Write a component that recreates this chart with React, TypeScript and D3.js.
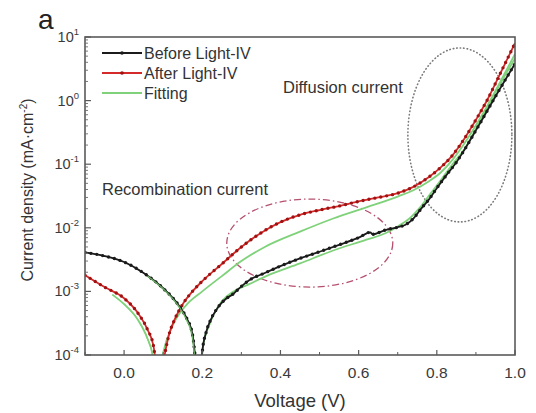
import React from 'react';
import * as d3 from 'd3';

type Pt = [number, number];

// Before Light-IV (|J| in mA/cm^2), split at the sign change
const beforeLeft: Pt[] = [
  [-0.1, 4.1e-3], [-0.05, 3.6e-3], [0.0, 2.9e-3], [0.05, 1.95e-3], [0.1, 1.12e-3],
  [0.14, 6.0e-4], [0.16, 3.8e-4], [0.175, 2.1e-4], [0.186, 5e-5],
];
const beforeRight: Pt[] = [
  [0.196, 5e-5], [0.2, 1.1e-4], [0.21, 2.3e-4], [0.22, 3.4e-4], [0.24, 5.6e-4],
  [0.26, 7.6e-4], [0.28, 9.2e-4], [0.3, 1.2e-3], [0.32, 1.5e-3], [0.36, 1.95e-3],
  [0.4, 2.5e-3], [0.45, 3.3e-3], [0.5, 4.2e-3], [0.55, 5.4e-3], [0.6, 7.0e-3],
  [0.63, 8.5e-3], [0.635, 7.9e-3], [0.67, 9.3e-3], [0.7, 1.02e-2], [0.72, 1.12e-2],
  [0.74, 1.4e-2], [0.76, 2.0e-2], [0.78, 2.8e-2], [0.8, 4.2e-2], [0.825, 6.8e-2],
  [0.85, 0.107], [0.87, 0.166], [0.9, 0.34], [0.93, 0.71], [0.96, 1.48], [1.0, 3.8],
];

// After Light-IV
const afterLeft: Pt[] = [
  [-0.1, 1.8e-3], [-0.05, 1.17e-3], [0.0, 7.8e-4], [0.035, 4.6e-4], [0.06, 2.5e-4],
  [0.075, 1.4e-4], [0.085, 5e-5],
];
const afterRight: Pt[] = [
  [0.095, 5e-5], [0.105, 1.1e-4], [0.115, 2.1e-4], [0.13, 3.7e-4], [0.15, 6.3e-4],
  [0.175, 1.0e-3], [0.2, 1.45e-3], [0.25, 2.7e-3], [0.3, 5.0e-3], [0.35, 8.3e-3],
  [0.4, 1.23e-2], [0.45, 1.6e-2], [0.5, 1.9e-2], [0.55, 2.2e-2], [0.6, 2.6e-2],
  [0.65, 3.0e-2], [0.7, 3.5e-2], [0.74, 4.4e-2], [0.78, 6.3e-2], [0.81, 8.9e-2],
  [0.84, 0.138], [0.87, 0.25], [0.9, 0.5], [0.93, 1.05], [0.96, 2.5], [1.0, 8.0],
];

// Fitting curves
const fitAfterLeft: Pt[] = [
  [-0.03, 8.9e-4], [0.0, 6.3e-4], [0.035, 3.6e-4], [0.06, 1.8e-4], [0.072, 1.07e-4], [0.08, 5e-5],
];
const fitAfterRight: Pt[] = [
  [0.09, 5e-5], [0.1, 1.1e-4], [0.123, 2.8e-4], [0.156, 5.8e-4], [0.2, 1.0e-3],
  [0.25, 1.74e-3], [0.3, 3.0e-3], [0.36, 5.0e-3], [0.45, 8.7e-3], [0.535, 1.4e-2],
  [0.62, 2.1e-2], [0.7, 3.1e-2], [0.74, 3.9e-2], [0.78, 5.4e-2], [0.81, 7.4e-2],
  [0.84, 0.117], [0.87, 0.21], [0.9, 0.41], [0.93, 0.85], [0.96, 1.86], [1.0, 5.4],
];
const fitBeforeLeft: Pt[] = [
  [0.06, 1.75e-3], [0.1, 1.1e-3], [0.14, 5.8e-4], [0.16, 3.6e-4], [0.175, 1.9e-4], [0.185, 5e-5],
];
const fitBeforeRight: Pt[] = [
  [0.194, 5e-5], [0.2, 1.2e-4], [0.22, 3.2e-4], [0.25, 7.0e-4], [0.28, 1.0e-3],
  [0.32, 1.3e-3], [0.365, 1.75e-3], [0.45, 2.75e-3], [0.535, 4.4e-3], [0.62, 6.5e-3],
  [0.67, 8.3e-3], [0.7, 1.05e-2], [0.73, 1.4e-2], [0.757, 2.1e-2], [0.78, 3.2e-2],
  [0.81, 5.6e-2], [0.84, 0.1], [0.87, 0.17], [0.9, 0.36], [0.93, 0.79], [0.96, 1.74], [1.0, 4.6],
];

const xMajor = [0.0, 0.2, 0.4, 0.6, 0.8, 1.0];
const xMinor = [-0.1, 0.1, 0.3, 0.5, 0.7, 0.9];
const yDecades = [-4, -3, -2, -1, 0, 1];
const legendItems = ['Before Light-IV', 'After Light-IV', 'Fitting'];

const W = 536;
const H = 413;
const margin = { top: 37, right: 21, bottom: 58, left: 85 };

const BLACK = '#1b1b1b';
const RED = '#d42a2a';
const RED_DOT = '#9e1212';
const GREEN = '#7fd27a';
const FONT = 'Liberation Sans, Arial, sans-serif';

const App: React.FC = () => {
  const x = d3.scaleLinear().domain([-0.1, 1.0]).range([margin.left, W - margin.right]);
  const y = d3.scaleLog().domain([1e-4, 10]).range([H - margin.bottom, margin.top]);
  const line = d3.line<Pt>().x(d => x(d[0])).y(d => y(d[1])).curve(d3.curveMonotoneX);

  const [x0, x1] = x.range();
  const [yb, yt] = y.range();

  const yMinor: number[] = [];
  yDecades.slice(0, -1).forEach(e => {
    for (let k = 2; k <= 9; k++) yMinor.push(k * Math.pow(10, e));
  });

  const dotted = (data: Pt[], col: string, dotCol: string, key: string) => (
    <g key={key}>
      <path d={line(data) || ''} fill="none" stroke={col} strokeWidth={1.8} />
      <path d={line(data) || ''} fill="none" stroke={dotCol} strokeWidth={3.4}
        strokeLinecap="round" strokeDasharray="0 6" />
    </g>
  );

  return (
    <svg width={W} height={H} style={{ position: 'absolute', left: 0, top: 0, background: '#fff' }}
      fontFamily={FONT}>
      <defs>
        <clipPath id="plot">
          <rect x={x0} y={yt} width={x1 - x0} height={yb - yt} />
        </clipPath>
      </defs>

      {/* annotation ellipses */}
      <ellipse cx={x(0.859)} cy={y(Math.pow(10, -0.54))} rx={52} ry={87}
        fill="none" stroke="#7a7a7a" strokeWidth={1.6} strokeLinecap="round" strokeDasharray="0.5 3" />
      <ellipse cx={x(0.475)} cy={y(Math.pow(10, -2.24))} rx={83} ry={44}
        fill="none" stroke="#b5506e" strokeWidth={1.3} strokeDasharray="7 3 1.5 3" />

      <g clipPath="url(#plot)">
        {[fitAfterLeft, fitAfterRight, fitBeforeLeft, fitBeforeRight].map((d, i) => (
          <path key={'f' + i} d={line(d) || ''} fill="none" stroke={GREEN} strokeWidth={1.8} />
        ))}
        {dotted(afterLeft, RED, RED_DOT, 'a1')}
        {dotted(afterRight, RED, RED_DOT, 'a2')}
        {dotted(beforeLeft, BLACK, BLACK, 'b1')}
        {dotted(beforeRight, BLACK, BLACK, 'b2')}
        {[fitAfterLeft, fitBeforeLeft].map((d, i) => (
          <path key={'g' + i} d={line(d) || ''} fill="none" stroke={GREEN} strokeWidth={1.2} opacity={0.8} />
        ))}
      </g>

      {/* frame */}
      <rect x={x0} y={yt} width={x1 - x0} height={yb - yt} fill="none" stroke="#5a5a5a" strokeWidth={1.6} />

      {/* x ticks */}
      {xMajor.map(v => (
        <g key={'xm' + v}>
          <line x1={x(v)} x2={x(v)} y1={yb} y2={yb - 5} stroke="#5a5a5a" strokeWidth={1.2} />
          <text x={x(v)} y={yb + 23} textAnchor="middle" fontSize={15.5} fill="#3a3a3a">{v.toFixed(1)}</text>
        </g>
      ))}
      {xMinor.map(v => (
        <line key={'xn' + v} x1={x(v)} x2={x(v)} y1={yb} y2={yb - 3} stroke="#5a5a5a" strokeWidth={1} />
      ))}

      {/* y ticks */}
      {yDecades.map(e => (
        <g key={'yd' + e}>
          <line x1={x0} x2={x0 + 6} y1={y(Math.pow(10, e))} y2={y(Math.pow(10, e))} stroke="#5a5a5a" strokeWidth={1.2} />
          <text x={x0 - 6} y={y(Math.pow(10, e)) + 5} textAnchor="end" fontSize={14.5} fill="#3a3a3a">
            10<tspan dy={-7} fontSize={9.5}>{e}</tspan>
          </text>
        </g>
      ))}
      {yMinor.map((v, i) => (
        <line key={'yn' + i} x1={x0} x2={x0 + 3} y1={y(v)} y2={y(v)} stroke="#6a6a6a" strokeWidth={0.9} />
      ))}

      {/* axis titles */}
      <text x={300} y={407} textAnchor="middle" fontSize={18.5} fill="#333">Voltage (V)</text>
      <text transform={`translate(33,${(yt + yb) / 2 - 6}) rotate(-90)`} textAnchor="middle" fontSize={16} fill="#333">
        Current density (mA·cm<tspan dy={-6} fontSize={10}>-2</tspan><tspan dy={6}>)</tspan>
      </text>

      <text x={38} y={29} fontSize={28} fill="#222">a</text>

      {/* legend */}
      {legendItems.map((name, i) => {
        const ly = 53 + i * 20;
        const col = i === 0 ? BLACK : i === 1 ? RED : GREEN;
        return (
          <g key={name}>
            <line x1={102} x2={142} y1={ly} y2={ly} stroke={col} strokeWidth={1.8} />
            {i < 2 && <circle cx={122} cy={ly} r={1.8} fill={i === 0 ? BLACK : RED_DOT} />}
            <text x={144} y={ly + 6} fontSize={16} fill="#333">{name}</text>
          </g>
        );
      })}

      <text x={283} y={93} fontSize={16.5} fill="#333">Diffusion current</text>
      <text x={102} y={195} fontSize={16.5} fill="#333">Recombination current</text>
    </svg>
  );
};

export default App;
